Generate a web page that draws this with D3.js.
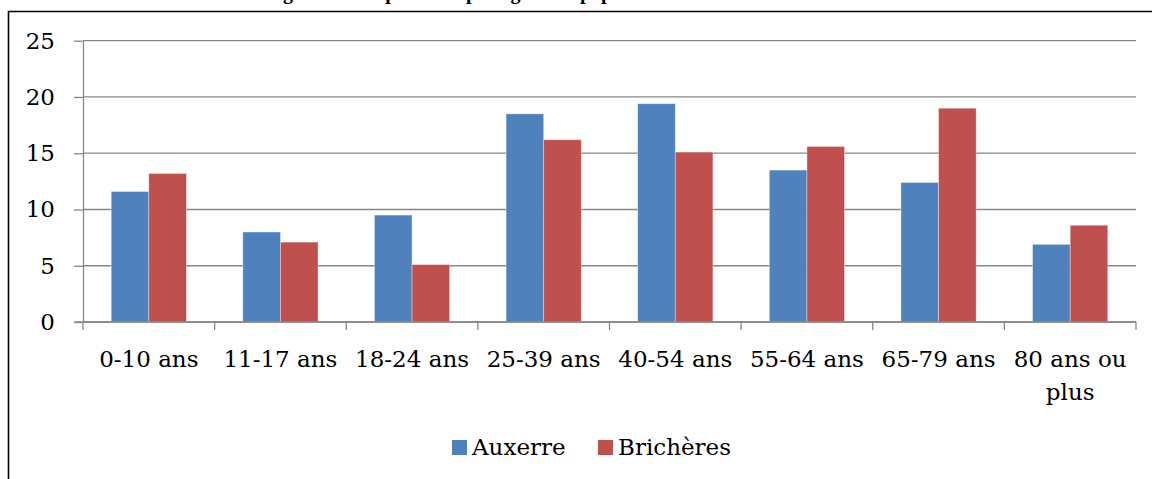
<!DOCTYPE html>
<html>
<head>
<meta charset="utf-8">
<script src="https://cdn.jsdelivr.net/npm/d3@7"></script>
<style>
  html, body { margin: 0; padding: 0; background: #fff; }
  svg { display: block; font-family: "DejaVu Serif", "Liberation Serif", serif; }
</style>
</head>
<body>
<svg id="chart" width="1152" height="479"></svg>
<script>
const categories = ['0-10 ans', '11-17 ans', '18-24 ans', '25-39 ans', '40-54 ans', '55-64 ans', '65-79 ans', '80 ans ou plus'];
const seriesNames = ['Auxerre', 'Brichères'];
const auxerre = [11.6, 8.0, 9.5, 18.5, 19.4, 13.5, 12.4, 6.9];
const bricheres = [13.2, 7.1, 5.1, 16.2, 15.1, 15.6, 19.0, 8.6];
const yTicks = [0, 5, 10, 15, 20, 25];
const colors = ['#4f81bd', '#c0504d'];
const titleText = 'Figure 11 : Répartition par âge de la population';

const svg = d3.select('#chart');
const plot = { left: 83, right: 1136, top: 40.7, bottom: 322 };
const fontSize = 23;
const gridColor = '#878787';

// frame of the embedded chart, its right and bottom edges are off the page
svg.append('path')
  .attr('d', 'M8.5,479V11.5H1152')
  .attr('fill', 'none')
  .attr('stroke', '#000')
  .attr('stroke-width', 1.6);

// title sits above the page, only its descenders show
const title = svg.append('text')
  .attr('x', 0)
  .attr('y', -1.5)
  .attr('font-size', 20)
  .attr('font-family', '"Liberation Serif", serif')
  .attr('font-weight', 'bold')
  .text(titleText);
// line up the "p" of "population" with the one seen in the picture
const pIdx = titleText.lastIndexOf('population');
const pOffset = title.node().getSubStringLength(0, pIdx);
title.attr('x', 580 - pOffset);

const x = d3.scaleBand().domain(categories).range([plot.left, plot.right]).paddingInner(0).paddingOuter(0);
const y = d3.scaleLinear().domain([0, 25]).range([plot.bottom, plot.top]);
const inner = d3.scaleBand().domain(seriesNames).range([0, x.bandwidth()]).paddingInner(0).paddingOuter(0.75);

// gridlines
svg.append('g')
  .selectAll('line')
  .data(yTicks)
  .join('line')
  .attr('x1', plot.left)
  .attr('x2', plot.right)
  .attr('y1', d => y(d))
  .attr('y2', d => y(d))
  .attr('stroke', gridColor)
  .attr('stroke-width', 1.3);

// y axis
const yAxis = svg.append('g')
  .attr('transform', `translate(${plot.left},0)`)
  .call(d3.axisLeft(y).tickValues(yTicks).tickSize(9).tickPadding(19).tickSizeOuter(0));
yAxis.select('.domain').attr('stroke', gridColor).attr('stroke-width', 1.3);
yAxis.selectAll('.tick line').attr('stroke', gridColor).attr('stroke-width', 1.3);
yAxis.selectAll('.tick text')
  .attr('font-size', fontSize)
  .attr('font-family', '"DejaVu Serif", serif')
  .attr('fill', '#000');

// bars
const rows = categories.map((c, i) => ({ cat: c, values: [auxerre[i], bricheres[i]] }));
svg.append('g')
  .selectAll('g')
  .data(rows)
  .join('g')
  .attr('transform', d => `translate(${x(d.cat)},0)`)
  .selectAll('rect')
  .data(d => d.values.map((v, j) => ({ name: seriesNames[j], value: v, j })))
  .join('rect')
  .attr('x', d => inner(d.name))
  .attr('width', inner.bandwidth())
  .attr('y', d => y(d.value))
  .attr('height', d => y(0) - y(d.value))
  .attr('fill', d => colors[d.j])
  .attr('stroke', 'rgba(255,255,255,0.45)')
  .attr('stroke-width', 0.8);

// x axis baseline and boundary ticks
svg.append('line')
  .attr('x1', plot.left - 9)
  .attr('x2', plot.right)
  .attr('y1', y(0))
  .attr('y2', y(0))
  .attr('stroke', gridColor)
  .attr('stroke-width', 1.3);
const bounds = categories.map(c => x(c)).concat([x(categories[categories.length - 1]) + x.bandwidth()]);
svg.append('g')
  .selectAll('line')
  .data(bounds)
  .join('line')
  .attr('x1', d => d)
  .attr('x2', d => d)
  .attr('y1', y(0))
  .attr('y2', y(0) + 8)
  .attr('stroke', gridColor)
  .attr('stroke-width', 1.3);

// category labels
const labelLines = { '80 ans ou plus': ['80 ans ou', 'plus'] };
svg.append('g')
  .selectAll('text')
  .data(categories)
  .join('text')
  .attr('x', d => x(d) + x.bandwidth() / 2)
  .attr('y', 367)
  .attr('text-anchor', 'middle')
  .attr('font-size', fontSize)
  .attr('fill', '#000')
  .each(function(d) {
    const lines = labelLines[d] || [d];
    d3.select(this).selectAll('tspan')
      .data(lines)
      .join('tspan')
      .attr('x', x(d) + x.bandwidth() / 2)
      .attr('dy', (l, i) => i === 0 ? 0 : 33)
      .text(l => l);
  });

// legend
const legendX = [452, 598];
const legend = svg.append('g')
  .selectAll('g')
  .data(seriesNames)
  .join('g')
  .attr('transform', (d, i) => `translate(${legendX[i]},440)`);
legend.append('rect')
  .attr('width', 15)
  .attr('height', 15)
  .attr('fill', (d, i) => colors[i]);
legend.append('text')
  .attr('x', 20)
  .attr('y', 15)
  .attr('font-size', fontSize)
  .attr('fill', '#000')
  .text(d => d);
</script>
</body>
</html>
